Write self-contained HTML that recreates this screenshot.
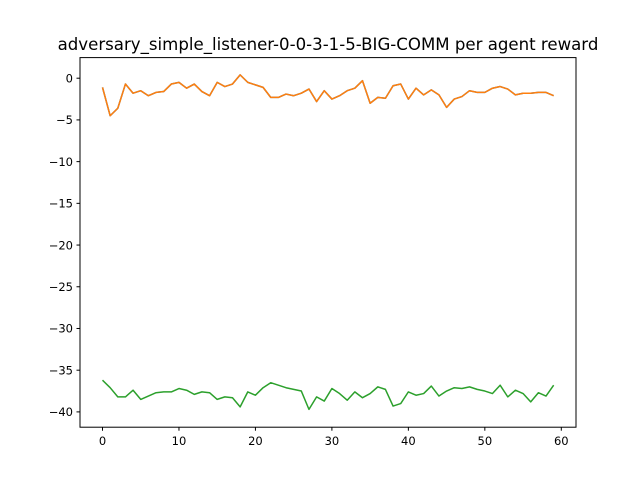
<!DOCTYPE html>
<html><head><meta charset="utf-8"><style>body{margin:0;background:#fff}svg{display:block;font-family:"DejaVu Sans","Liberation Sans",sans-serif}</style></head>
<body>
<svg id="chart" width="640" height="480">
<rect width="640" height="480" fill="#fff"/>
<text x="328" y="50" font-size="16.6" text-anchor="middle">adversary_simple_listener-0-0-3-1-5-BIG-COMM per agent reward</text>
<g id="plot"></g>
<rect x="80" y="57.6" width="496" height="369.6" fill="none" stroke="#000" stroke-width="1"/>
</svg>
<script>
const xTicks=[0,10,20,30,40,50,60];
const yTicks=[0,-5,-10,-15,-20,-25,-30,-35,-40];
const agent0=[-1.1,-4.5,-3.6,-0.7,-1.8,-1.5,-2.1,-1.7,-1.6,-0.7,-0.5,-1.2,-0.7,-1.6,-2.1,-0.5,-1.0,-0.7,0.4,-0.5,-0.8,-1.1,-2.3,-2.3,-1.9,-2.1,-1.8,-1.3,-2.8,-1.5,-2.5,-2.1,-1.5,-1.2,-0.3,-3.0,-2.3,-2.4,-0.9,-0.7,-2.5,-1.2,-2.0,-1.4,-2.0,-3.5,-2.5,-2.2,-1.5,-1.7,-1.7,-1.2,-1.0,-1.3,-2.0,-1.8,-1.8,-1.7,-1.7,-2.1];
const agent1=agent0.slice();
const agent2=[-36.2,-37.1,-38.2,-38.2,-37.4,-38.5,-38.1,-37.7,-37.6,-37.6,-37.2,-37.4,-37.9,-37.6,-37.7,-38.5,-38.2,-38.3,-39.4,-37.6,-38.0,-37.1,-36.5,-36.8,-37.1,-37.3,-37.5,-39.7,-38.2,-38.7,-37.2,-37.8,-38.6,-37.6,-38.3,-37.8,-37.0,-37.3,-39.3,-39.0,-37.6,-38.0,-37.8,-36.9,-38.1,-37.5,-37.1,-37.2,-37.0,-37.3,-37.5,-37.8,-36.8,-38.2,-37.4,-37.8,-38.8,-37.7,-38.1,-36.8];
const sx=v=>102.5+v*(561.3-102.5)/60;
const sy=v=>78.2+(-v)*(411.9-78.2)/40;
const NS="http://www.w3.org/2000/svg";
const g=document.getElementById('plot');
function mk(t,a){const e=document.createElementNS(NS,t);for(const k in a)e.setAttribute(k,a[k]);g.appendChild(e);return e;}
xTicks.forEach(t=>{
 const l=mk('line',{x1:sx(t),x2:sx(t),y1:427.2,y2:430.7,stroke:'#000'});
 
 
 const tx=mk('text',{x:sx(t),y:445,'font-size':11.5,'text-anchor':'middle'});tx.textContent=t;
 
 
});
yTicks.forEach(t=>{
 const l=mk('line',{x1:76.5,x2:80,y1:sy(t),y2:sy(t),stroke:'#000'});
 
 
 const tx=mk('text',{x:73,y:sy(t)+4.2,'font-size':11.5,'text-anchor':'end'});tx.textContent=t===0?'0':'\u2212'+Math.abs(t);
 
 
});
[[agent0,'#1f77b4','agent-0-line'],[agent1,'#ff7f0e','agent-1-line'],[agent2,'#2ca02c','agent-2-line']].forEach(([d,c,n])=>{
 const p=mk('polyline',{points:d.map((v,i)=>sx(i)+','+sy(v)).join(' '),fill:'none',stroke:c,'stroke-width':1.5,'stroke-linejoin':'round'});
 
 
});
</script>
</body></html>
